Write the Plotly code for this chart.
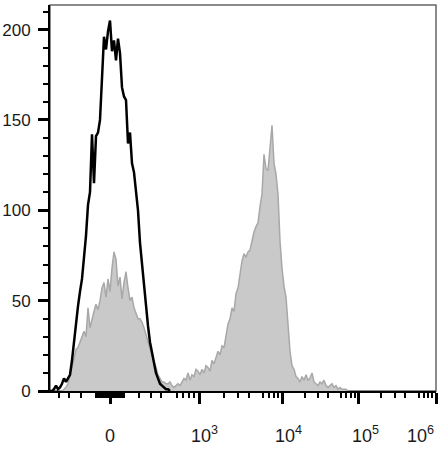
import numpy as np
import plotly.graph_objects as go

# -------------------------------------------------------------------
# DATA  (histogram counts per display channel, 2 channels per bin)
# -------------------------------------------------------------------
CH_STEP = 2
BLACK_START = 0
GREY_START = 10

black_counts = [
    0, 0, 1, 3, 1, 2, 4, 7, 5, 7,
    9, 17, 28, 40, 47, 55, 62, 74, 86, 103,
    110, 142, 115, 141, 143, 150, 178, 196, 189, 199,
    205, 188, 194, 183, 195, 187, 168, 163, 161, 137,
    143, 126, 121, 111, 100, 82, 70, 59, 49, 36,
    27, 21, 16, 10, 7, 4, 3, 2, 1, 1,
    0,
]

grey_counts = [
    0, 0, 1, 2, 4, 8, 13, 18, 23, 24,
    27, 29, 33, 30, 46, 35, 40, 44, 48, 45,
    50, 57, 60, 52, 62, 55, 68, 77, 73, 58,
    63, 51, 60, 66, 57, 50, 52, 46, 43, 40,
    40, 38, 35, 31, 27, 24, 20, 16, 13, 9,
    7, 5, 5, 4, 4, 5, 3, 2, 3, 4,
    3, 5, 7, 6, 10, 6, 9, 8, 12, 11,
    9, 12, 10, 14, 13, 11, 17, 15, 18, 22,
    20, 25, 24, 30, 37, 40, 46, 44, 54, 57,
    66, 72, 76, 74, 77, 78, 83, 88, 91, 93,
    102, 109, 131, 123, 122, 135, 147, 126, 120, 109,
    83, 68, 58, 52, 38, 22, 14, 12, 8, 7,
    5, 8, 6, 9, 6, 7, 10, 5, 4, 3,
    5, 4, 6, 3, 2, 3, 4, 2, 3, 1,
    2, 1, 1, 1, 0,
]

# x axis: biexponential display, value -> channel calibration
ASINH_COFACTOR = 300
CAL_VALUES = [-1e3, 0, 1e3, 1e4, 1e5, 1e6]
CAL_CHANNELS = [-29, 60, 149, 232, 308, 386]

major_ticks = [0, 1e3, 1e4, 1e5, 1e6]
major_labels = ["0", "10<sup>3</sup>", "10<sup>4</sup>", "10<sup>5</sup>", "10<sup>6</sup>"]
medium_ticks = [-100, 100, 500, 5e3, 5e4, 5e5]
minor_ticks = ([-400, -300, -200]
               + list(range(-90, 0, 10)) + list(range(10, 100, 10))
               + [200, 300, 400, 600, 700, 800, 900]
               + [k * 10 ** d for d in (3, 4, 5) for k in (2, 3, 4, 6, 7, 8, 9)])

Y_MAX = 213.6


def to_channel(v):
    u = np.arcsinh(np.asarray(v, dtype=float) / ASINH_COFACTOR)
    cal = np.arcsinh(np.asarray(CAL_VALUES) / ASINH_COFACTOR)
    return np.interp(u, cal, CAL_CHANNELS)


black_x = BLACK_START + CH_STEP * np.arange(len(black_counts))
grey_x = GREY_START + CH_STEP * np.arange(len(grey_counts))

FONT = "Arial, Liberation Sans, sans-serif"

fig = go.Figure()

fig.add_trace(go.Scatter(
    x=grey_x, y=grey_counts,
    mode="lines",
    fill="tozeroy",
    fillcolor="#c9c9c9",
    line=dict(color="#a8a8a8", width=1.5),
    hoverinfo="skip",
))

fig.add_trace(go.Scatter(
    x=black_x, y=black_counts,
    mode="lines",
    line=dict(color="black", width=2.5),
    hoverinfo="skip",
))

x_range = [0, CAL_CHANNELS[-1]]

fig.update_layout(
    width=446,
    height=450,
    margin=dict(l=50, r=10, t=5, b=59, autoexpand=False),
    paper_bgcolor="white",
    plot_bgcolor="white",
    showlegend=False,
    font=dict(family=FONT, size=18, color="#1a1a1a"),
    xaxis=dict(
        range=x_range, automargin=False,
        showgrid=False, zeroline=False,
        showline=True, linecolor="black", linewidth=2,
        ticks="outside", ticklen=11, tickwidth=3, tickcolor="black",
        tickmode="array", tickvals=to_channel(major_ticks),
        showticklabels=False,
        minor=dict(tickmode="array", tickvals=to_channel(minor_ticks),
                   ticks="outside", ticklen=5, tickwidth=2, tickcolor="black"),
    ),
    xaxis2=dict(
        range=x_range, overlaying="x", anchor="y", side="bottom", automargin=False,
        showgrid=False, zeroline=False, showline=False,
        ticks="outside", ticklen=8, tickwidth=2, tickcolor="black",
        tickmode="array", tickvals=to_channel(medium_ticks),
        showticklabels=False,
    ),
    yaxis=dict(
        range=[0, Y_MAX], automargin=False,
        showgrid=False, zeroline=False,
        showline=True, linecolor="black", linewidth=2,
        ticks="outside", ticklen=10, tickwidth=3, tickcolor="black",
        tick0=0, dtick=50,
        ticklabelstandoff=4,
        tickfont=dict(size=17),
        minor=dict(dtick=10, ticks="outside", ticklen=5, tickwidth=1.5, tickcolor="black"),
    ),
    shapes=[dict(
        type="rect", xref="x domain", yref="y domain",
        x0=0, x1=1, y0=0, y1=1,
        line=dict(color="#666666", width=1.5),
        layer="below",
    )],
)

# x tick labels as annotations (last one pulled inside like the original)
label_xshift = [0, 5, 6, 7, -16]
for val, txt, dx in zip(major_ticks, major_labels, label_xshift):
    fig.add_annotation(
        x=float(to_channel(val)), y=0, xref="x", yref="paper",
        text=txt, showarrow=False,
        xanchor="center", yanchor="bottom",
        xshift=dx, yshift=-57,
        font=dict(family=FONT, size=18, color="#1a1a1a"),
    )

# the page's default body margin would push the figure off the window
fig.write_html("out.html", config={"displayModeBar": False},
               post_script="document.body.style.margin = '0';")
